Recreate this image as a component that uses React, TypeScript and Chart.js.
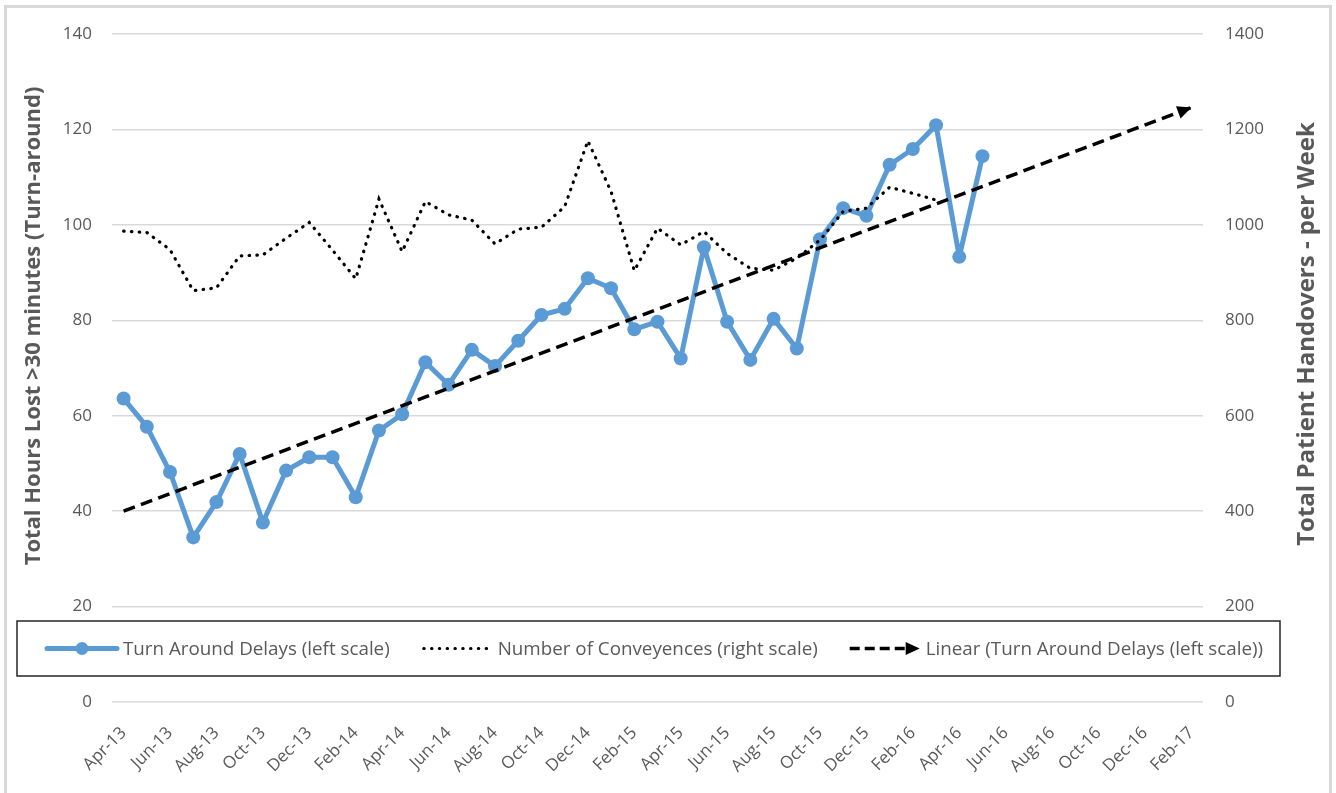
import { useEffect, useRef } from 'react';
import { Chart, registerables } from 'chart.js';

Chart.register(...registerables);

// Monthly categories on the x axis (labels shown every second month)
const months = [
  'Apr-13', 'May-13', 'Jun-13', 'Jul-13', 'Aug-13', 'Sep-13', 'Oct-13', 'Nov-13', 'Dec-13',
  'Jan-14', 'Feb-14', 'Mar-14', 'Apr-14', 'May-14', 'Jun-14', 'Jul-14', 'Aug-14', 'Sep-14',
  'Oct-14', 'Nov-14', 'Dec-14', 'Jan-15', 'Feb-15', 'Mar-15', 'Apr-15', 'May-15', 'Jun-15',
  'Jul-15', 'Aug-15', 'Sep-15', 'Oct-15', 'Nov-15', 'Dec-15', 'Jan-16', 'Feb-16', 'Mar-16',
  'Apr-16', 'May-16', 'Jun-16', 'Jul-16', 'Aug-16', 'Sep-16', 'Oct-16', 'Nov-16', 'Dec-16',
  'Jan-17', 'Feb-17',
];

// Total hours lost > 30 minutes (left scale), Apr-13 .. May-16
const turnAroundDelays = [
  63.6, 57.7, 48.2, 34.5, 41.9, 52.0, 37.6, 48.5, 51.3, 51.3, 42.9, 56.9, 60.3, 71.2, 66.5,
  73.8, 70.4, 75.7, 81.1, 82.4, 88.8, 86.7, 78.1, 79.7, 72.0, 95.3, 79.7, 71.7, 80.3, 74.1,
  97.0, 103.5, 101.9, 112.6, 115.9, 120.9, 93.3, 114.4,
];

// Patient handovers per week (right scale), Apr-13 .. Mar-16
const conveyances = [
  987, 984, 948, 862, 868, 935, 937, 972, 1005, 947, 887, 1054, 944, 1049, 1021, 1010, 960,
  991, 995, 1038, 1176, 1070, 904, 993, 958, 986, 940, 909, 905, 930, 968, 1028, 1035, 1079,
  1066, 1052,
];

// Linear trend of the delays, extended forward to Feb-17
const trendMonths = ['Apr-13', 'Feb-17'];
const trendValues = [40.0, 124.6];

const leftTicks = [0, 20, 40, 60, 80, 100, 120, 140];
const rightTicks = [0, 200, 400, 600, 800, 1000, 1200, 1400];

const legendLabels = [
  'Turn Around Delays (left scale)',
  'Number of Conveyences (right scale)',
  'Linear (Turn Around Delays (left scale))',
];

const leftTitle = 'Total Hours Lost >30 minutes (Turn-around)';
const rightTitle = 'Total Patient Handovers - per Week';

const FONT = '"Open Sans", Lato, sans-serif';
const TEXT = '#595959';
const BLUE = '#5B9BD5';
const GRID = '#D9D9D9';

function arrowHead(ctx: CanvasRenderingContext2D, tipX: number, tipY: number, angle: number, len: number, half: number) {
  ctx.save();
  ctx.translate(tipX, tipY);
  ctx.rotate(angle);
  ctx.beginPath();
  ctx.moveTo(0, 0);
  ctx.lineTo(-len, -half);
  ctx.lineTo(-len, half);
  ctx.closePath();
  ctx.fillStyle = '#000';
  ctx.fill();
  ctx.restore();
}

function verticalTitle(ctx: CanvasRenderingContext2D, text: string, cx: number, cy: number, size: number) {
  ctx.save();
  ctx.font = `bold ${size}px ${FONT}`;
  ctx.fillStyle = TEXT;
  ctx.textAlign = 'center';
  ctx.textBaseline = 'middle';
  ctx.translate(cx, cy);
  ctx.rotate(-Math.PI / 2);
  ctx.fillText(text, 0, 0);
  ctx.restore();
}

const decorPlugin = {
  id: 'decor',
  beforeDraw(chart: any) {
    const { ctx, width, height } = chart;
    ctx.save();
    ctx.fillStyle = '#fff';
    ctx.fillRect(0, 0, width, height);
    ctx.strokeStyle = GRID;
    ctx.lineWidth = 3;
    ctx.strokeRect(5.5, 6.5, 1325, height + 10);
    ctx.restore();
  },
  afterDatasetsDraw(chart: any) {
    const meta = chart.getDatasetMeta(2);
    const pts = meta.data;
    if (pts.length < 2) return;
    const a = pts[pts.length - 2];
    const b = pts[pts.length - 1];
    const ang = Math.atan2(b.y - a.y, b.x - a.x);
    arrowHead(chart.ctx, b.x, b.y, ang, 14, 6.5);
  },
  afterDraw(chart: any) {
    const { ctx } = chart;
    ctx.save();

    // axis titles
    verticalTitle(ctx, leftTitle, 34, 326, 22);
    verticalTitle(ctx, rightTitle, 1307, 334, 24);

    // legend box
    const bx = 17, by = 621, bw = 1263, bh = 55;
    ctx.fillStyle = '#fff';
    ctx.fillRect(bx, by, bw, bh);
    ctx.strokeStyle = '#262626';
    ctx.lineWidth = 1.5;
    ctx.strokeRect(bx, by, bw, bh);

    const cy = by + bh / 2;
    ctx.font = `18.8px ${FONT}`;
    ctx.textAlign = 'left';
    ctx.textBaseline = 'middle';
    let x = 47;
    legendLabels.forEach((label, i) => {
      ctx.save();
      if (i === 0) {
        ctx.strokeStyle = BLUE;
        ctx.lineWidth = 5;
        ctx.lineCap = 'round';
        ctx.beginPath();
        ctx.moveTo(x, cy);
        ctx.lineTo(x + 70, cy);
        ctx.stroke();
        ctx.fillStyle = BLUE;
        ctx.beginPath();
        ctx.arc(x + 35, cy, 6.5, 0, Math.PI * 2);
        ctx.fill();
      } else if (i === 1) {
        ctx.strokeStyle = '#000';
        ctx.lineWidth = 3;
        ctx.lineCap = 'round';
        ctx.setLineDash([0.5, 7.3]);
        ctx.beginPath();
        ctx.moveTo(x + 2, cy);
        ctx.lineTo(x + 66, cy);
        ctx.stroke();
      } else {
        ctx.strokeStyle = '#000';
        ctx.lineWidth = 3.5;
        ctx.setLineDash([10, 5]);
        ctx.beginPath();
        ctx.moveTo(x, cy);
        ctx.lineTo(x + 58, cy);
        ctx.stroke();
        arrowHead(ctx, x + 70, cy, 0, 14, 6.5);
      }
      ctx.restore();
      ctx.fillStyle = TEXT;
      ctx.fillText(label, x + 76, cy + 1);
      x = x + 76 + ctx.measureText(label).width + 32;
    });
    ctx.restore();
  },
};

export default function App() {
  const ref = useRef<HTMLCanvasElement>(null);

  useEffect(() => {
    document.body.style.margin = '0';
    const canvas = ref.current!;
    const chart = new Chart(canvas, {
      type: 'line',
      data: {
        labels: months,
        datasets: [
          {
            label: legendLabels[0],
            data: turnAroundDelays,
            yAxisID: 'y',
            borderColor: BLUE,
            backgroundColor: BLUE,
            borderWidth: 5,
            borderJoinStyle: 'round',
            borderCapStyle: 'round',
            pointRadius: 7,
            pointBackgroundColor: BLUE,
            pointBorderColor: BLUE,
            pointBorderWidth: 0,
            tension: 0,
            order: 3,
          },
          {
            label: legendLabels[1],
            data: conveyances,
            yAxisID: 'y1',
            borderColor: '#000',
            borderWidth: 3.2,
            borderDash: [0.5, 7.3],
            borderCapStyle: 'round',
            pointRadius: 0,
            tension: 0,
            order: 2,
          },
          {
            label: legendLabels[2],
            data: trendMonths.map((m, i) => ({ x: m, y: trendValues[i] })),
            yAxisID: 'y',
            borderColor: '#000',
            borderWidth: 3.5,
            borderDash: [12, 6.5],
            pointRadius: 0,
            tension: 0,
            order: 1,
          },
        ],
      },
      options: {
        responsive: false,
        animation: false,
        devicePixelRatio: 1,
        events: [],
        layout: { padding: { top: 34, left: 0, right: 0, bottom: 0 } },
        plugins: {
          legend: { display: false },
          tooltip: { enabled: false },
        },
        scales: {
          x: {
            type: 'category',
            offset: true,
            grid: { display: false },
            border: { display: false },
            ticks: {
              autoSkip: false,
              maxRotation: 45,
              minRotation: 45,
              padding: 13,
              color: TEXT,
              font: { family: FONT, size: 17 },
              callback: (_v: any, i: number) => (i % 2 === 0 ? months[i] : ''),
            },
            afterFit: (s: any) => {
              s.height = 91;
            },
          },
          y: {
            position: 'left',
            min: leftTicks[0],
            max: leftTicks[leftTicks.length - 1],
            afterBuildTicks: (s: any) => {
              s.ticks = leftTicks.map((v) => ({ value: v }));
            },
            grid: { color: GRID, lineWidth: 1.5, drawTicks: false },
            border: { display: false },
            ticks: {
              padding: 20,
              color: TEXT,
              font: { family: FONT, size: 17 },
              callback: (v: any) => String(v),
            },
            afterFit: (s: any) => {
              s.width = 112;
            },
          },
          y1: {
            position: 'right',
            min: rightTicks[0],
            max: rightTicks[rightTicks.length - 1],
            afterBuildTicks: (s: any) => {
              s.ticks = rightTicks.map((v) => ({ value: v }));
            },
            grid: { display: false, drawTicks: false },
            border: { display: false },
            ticks: {
              padding: 22,
              color: TEXT,
              font: { family: FONT, size: 17 },
              callback: (v: any) => String(v),
            },
            afterFit: (s: any) => {
              s.width = 133;
            },
          },
        },
      },
      plugins: [decorPlugin],
    } as any);
    return () => chart.destroy();
  }, []);

  return (
    <div style={{ width: 1336, height: 793, background: '#fff' }}>
      <canvas ref={ref} width={1336} height={793} />
    </div>
  );
}
